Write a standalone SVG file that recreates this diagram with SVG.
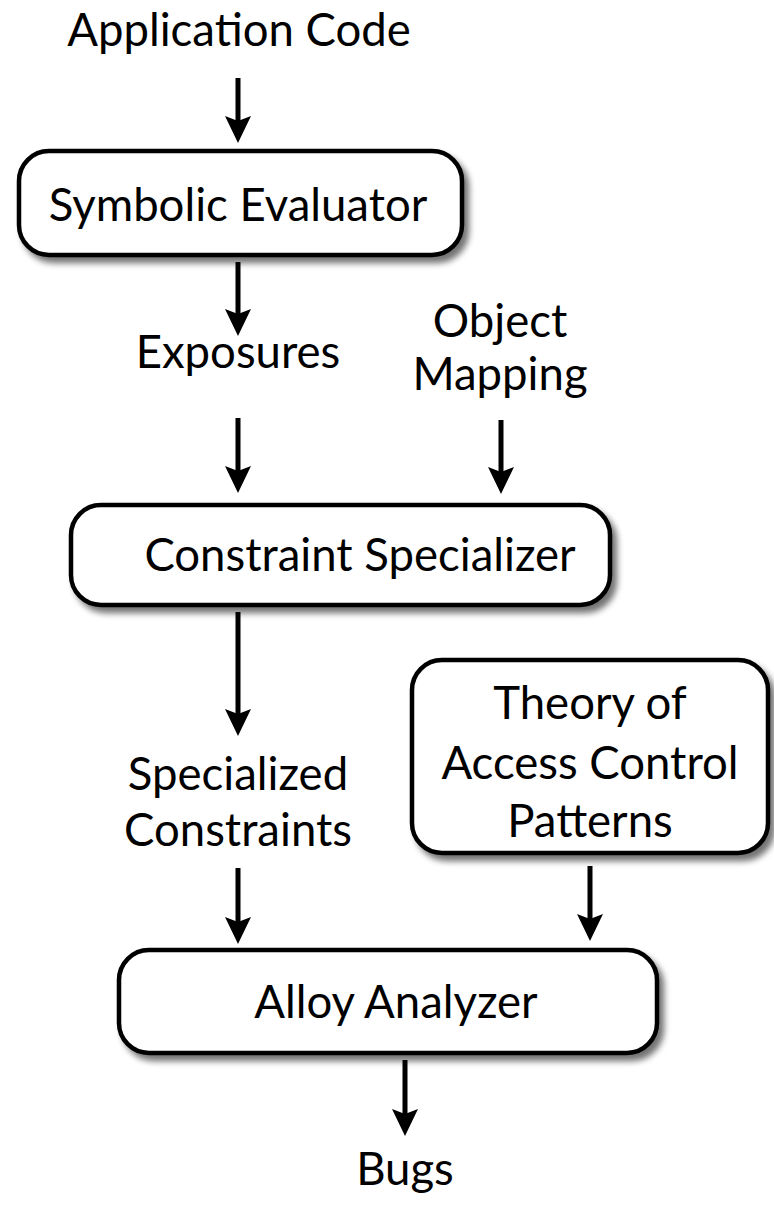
<svg xmlns="http://www.w3.org/2000/svg" width="774" height="1209" viewBox="0 0 774 1209">
  <style>
    .box { fill: #fff; stroke: #000; stroke-width: 4.5; filter: url(#shadow); }
    .lbl { font-family: Lato, "Open Sans", sans-serif; font-size: 45.5px; fill: #000; text-anchor: middle; }
    .edge line { stroke: #000; stroke-width: 5; }
    .edge use { fill: #000; }
  </style>
  <defs>
    <filter id="shadow" x="-10%" y="-10%" width="125%" height="130%">
      <feGaussianBlur in="SourceAlpha" stdDeviation="3"/>
      <feOffset dx="5" dy="6" result="off"/>
      <feComponentTransfer><feFuncA type="linear" slope="0.55"/></feComponentTransfer>
      <feMerge><feMergeNode/><feMergeNode in="SourceGraphic"/></feMerge>
    </filter>
    <!-- downward arrowhead, tip at origin -->
    <path id="head" d="M0,0 L-13,-27 L0,-22 L13,-27 Z"/>
  </defs>

  <!-- connectors: vertical shafts with solid heads -->
  <g id="connectors">
    <g class="edge"><line x1="238" y1="78" x2="238" y2="122"/><use href="#head" x="238" y="143"/></g>
    <g class="edge"><line x1="238" y1="262" x2="238" y2="315"/><use href="#head" x="238" y="336"/></g>
    <g class="edge"><line x1="238" y1="418" x2="238" y2="472"/><use href="#head" x="238" y="493"/></g>
    <g class="edge"><line x1="501" y1="420" x2="501" y2="473"/><use href="#head" x="501" y="494"/></g>
    <g class="edge"><line x1="238" y1="612" x2="238" y2="715"/><use href="#head" x="238" y="736"/></g>
    <g class="edge"><line x1="238" y1="868" x2="238" y2="923"/><use href="#head" x="238" y="944"/></g>
    <g class="edge"><line x1="590" y1="866" x2="590" y2="920"/><use href="#head" x="590" y="941"/></g>
    <g class="edge"><line x1="405" y1="1060" x2="405" y2="1115"/><use href="#head" x="405" y="1136"/></g>
  </g>

  <g id="app-code"><text class="lbl" x="239" y="46">Application Code</text></g>

  <g id="symbolic-evaluator">
    <rect class="box" x="19" y="151" width="443" height="104" rx="30"/>
    <text class="lbl" x="238" y="221">Symbolic Evaluator</text>
  </g>

  <g id="exposures"><text class="lbl" x="238" y="368">Exposures</text></g>

  <g id="object-mapping">
    <text class="lbl" x="500" y="337">Object</text>
    <text class="lbl" x="500" y="390">Mapping</text>
  </g>

  <g id="constraint-specializer">
    <rect class="box" x="71" y="505" width="539" height="100" rx="30"/>
    <text class="lbl" x="360" y="571">Constraint Specializer</text>
  </g>

  <g id="theory">
    <rect class="box" x="412" y="660" width="356" height="193" rx="30"/>
    <text class="lbl" x="590" y="719">Theory of</text>
    <text class="lbl" x="590" y="779">Access Control</text>
    <text class="lbl" x="590" y="837">Patterns</text>
  </g>

  <g id="specialized-constraints">
    <text class="lbl" x="238" y="790">Specialized</text>
    <text class="lbl" x="238" y="846">Constraints</text>
  </g>

  <g id="alloy-analyzer">
    <rect class="box" x="119" y="950" width="538" height="103" rx="30"/>
    <text class="lbl" x="396" y="1018">Alloy Analyzer</text>
  </g>

  <g id="bugs"><text class="lbl" x="405" y="1185">Bugs</text></g>
</svg>
